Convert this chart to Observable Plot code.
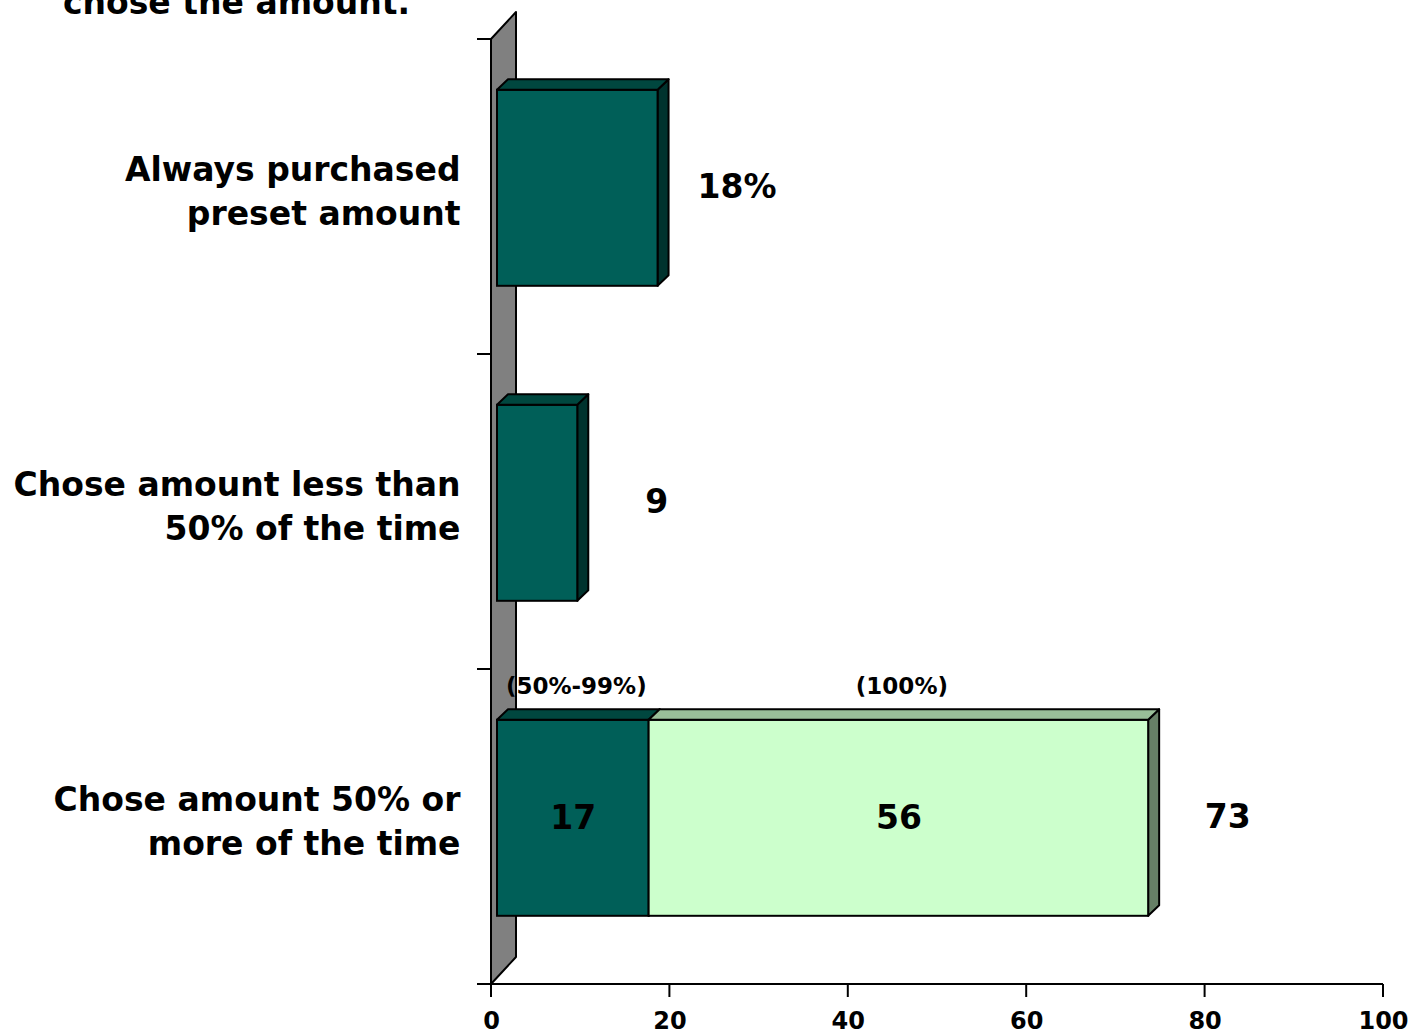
<!DOCTYPE html>
<html>
<head>
<meta charset="utf-8">
<script src="https://cdn.jsdelivr.net/npm/d3@7"></script>
<script src="https://cdn.jsdelivr.net/npm/@observablehq/plot@0.6"></script>
<style>
  html, body { margin: 0; padding: 0; background: #fff; overflow: hidden; }
  #wrap { position: relative; width: 1411px; height: 1033px; }
  #title { position: absolute; left: 63px; top: -14px; font: bold 33px "DejaVu Sans", Verdana, sans-serif; line-height: 33px; color: #000; white-space: nowrap; }
</style>
</head>
<body>
<div id="wrap">
  <div id="title">chose the amount.</div>
  <div id="chart"></div>
</div>
<script>
// ---- data ----
const categories = ["Always purchased\npreset amount", "Chose amount less than\n50% of the time", "Chose amount 50% or\nmore of the time"];
const segCategory = [0, 1, 2, 2];
const segStart = [0, 0, 0, 17];
const segValue = [18, 9, 17, 56];
const segTone = ["dark", "dark", "dark", "light"];
const totals = [18, 9, 73];
const totalLabels = ["18%", "9", "73"];
const stackLabels = ["17", "56"];
const stackSubLabels = ["(50%-99%)", "(100%)"];
const stackIdx = [2, 3];
const xTicks = [0, 20, 40, 60, 80, 100];
const yTicks = [0, 1, 2, 3];

// ---- style ----
const FONT = '"DejaVu Sans", Verdana, sans-serif';
const tones = {
  dark:  {front: "#005f58", top: "#00473f", side: "#00332e"},
  light: {front: "#ccffcc", top: "#99bf99", side: "#668066"}
};
const WALL = {dx: 25, dy: -27};
const BAR = {shift: 6, dx: 11, dy: -10.5, half: 98, lift: -8.7};

const rowY = (i) => categories.length - 0.5 - i;

const segments = segValue.map((v, i) => ({cat: segCategory[i], start: segStart[i], value: v, tone: segTone[i]}));
const totalRows = totals.map((t, i) => ({row: rowY(i), total: t, label: totalLabels[i]}));
const stackRows = stackIdx.map((k, j) => ({mid: segStart[k] + segValue[k] / 2, row: rowY(segCategory[k]), label: stackLabels[j], sub: stackSubLabels[j]}));
const catRows = categories.map((c, i) => ({label: c, row: rowY(i)}));

function decor(index, scales) {
  const {x, y} = scales;
  const g = d3.create("svg:g");
  const x0 = x(0), yTop = y(yTicks[yTicks.length - 1]), yBot = y(0);
  // wall
  g.append("polygon")
    .attr("points", [[x0, yTop], [x0 + WALL.dx, yTop + WALL.dy], [x0 + WALL.dx, yBot + WALL.dy], [x0, yBot]].map(p => p.join(",")).join(" "))
    .attr("fill", "#808080").attr("stroke", "#000").attr("stroke-width", 2).attr("stroke-linejoin", "round");
  // y ticks
  for (const t of yTicks) {
    g.append("line").attr("x1", x0 - 14).attr("x2", x0).attr("y1", y(t)).attr("y2", y(t)).attr("stroke", "#000").attr("stroke-width", 2);
  }
  // x axis line and ticks
  g.append("line").attr("x1", x0 - 14).attr("x2", x(100)).attr("y1", yBot).attr("y2", yBot).attr("stroke", "#000").attr("stroke-width", 2);
  for (const t of xTicks) {
    g.append("line").attr("x1", x(t)).attr("x2", x(t)).attr("y1", yBot).attr("y2", yBot + 13).attr("stroke", "#000").attr("stroke-width", 2);
  }
  // bars
  const pts = a => a.map(p => p.join(",")).join(" ");
  for (const s of segments) {
    const c = tones[s.tone];
    const cy = y(rowY(s.cat)) + BAR.lift;
    const yt = cy - BAR.half, yb = cy + BAR.half;
    const x1 = x(s.start) + BAR.shift, x2 = x(s.start + s.value) + BAR.shift;
    g.append("polygon").attr("points", pts([[x2, yt], [x2 + BAR.dx, yt + BAR.dy], [x2 + BAR.dx, yb + BAR.dy], [x2, yb]]))
      .attr("fill", c.side).attr("stroke", "#000").attr("stroke-width", 2).attr("stroke-linejoin", "round");
    g.append("rect").attr("x", x1).attr("y", yt).attr("width", x2 - x1).attr("height", yb - yt)
      .attr("fill", c.front).attr("stroke", "#000").attr("stroke-width", 2);
    g.append("polygon").attr("points", pts([[x1, yt], [x1 + BAR.dx, yt + BAR.dy], [x2 + BAR.dx, yt + BAR.dy], [x2, yt]]))
      .attr("fill", c.top).attr("stroke", "#000").attr("stroke-width", 2).attr("stroke-linejoin", "round");
  }
  return g.node();
}

const chart = Plot.plot({
  width: 1411,
  height: 1033,
  marginLeft: 491,
  marginRight: 28,
  marginTop: 39,
  marginBottom: 49,
  style: {fontFamily: FONT, fontWeight: "bold", fontSize: "22px", color: "#000", background: "transparent", overflow: "visible"},
  x: {domain: [0, 100], axis: null},
  y: {domain: [0, 3], axis: null},
  marks: [
    decor,
    Plot.text(xTicks, {x: d => d, y: 0, text: d => String(d), dy: 37, fontSize: 24, fontWeight: "bold", fill: "#000"}),
    Plot.text(catRows, {x: 0, y: "row", text: "label", dx: -31, dy: -8, textAnchor: "end", lineHeight: 1.34, fontSize: 33, fontWeight: "bold", fill: "#000"}),
    Plot.text(totalRows, {x: "total", y: "row", text: "label", dx: 85, dy: -10, fontSize: 33, fontWeight: "bold", fill: "#000"}),
    Plot.text(stackRows, {x: "mid", y: "row", text: "label", dx: 6, dy: -9, fontSize: 33, fontWeight: "bold", fill: "#000"}),
    Plot.text(stackRows, {x: "mid", y: "row", text: "sub", dx: 9, dy: -140, fontSize: 23, fontWeight: "bold", fill: "#000"})
  ]
});
document.getElementById("chart").appendChild(chart);
</script>
</body>
</html>
